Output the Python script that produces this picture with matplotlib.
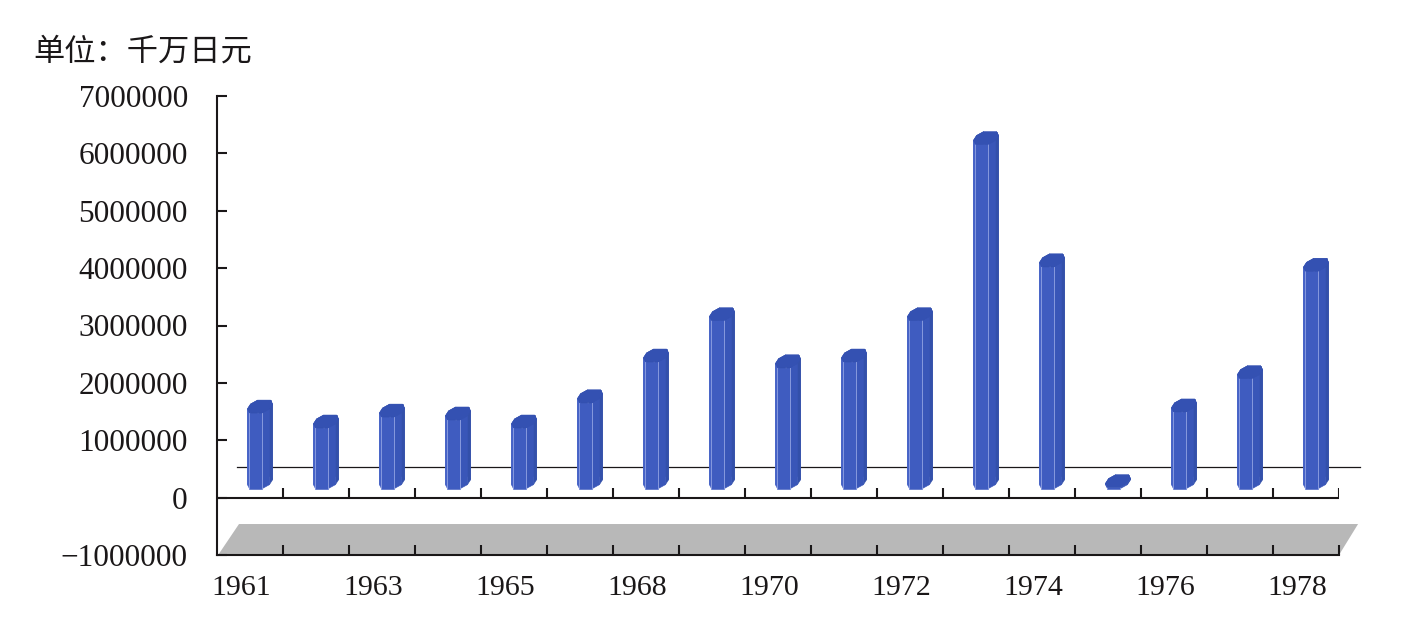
import matplotlib.pyplot as plt
import matplotlib.transforms as mtransforms
from matplotlib.patches import Polygon
import numpy as np

# 数据（单位：千万日元）
years = ['1961', '1962', '1963', '1964', '1965', '1966', '1968', '1969', '1970',
         '1971', '1972', '1973', '1974', '1975', '1976', '1977', '1978']
values = [1320000, 1060000, 1250000, 1200000, 1060000, 1500000, 2210000, 2930000, 2110000,
          2210000, 2930000, 6000000, 3870000, 20000, 1340000, 1920000, 3790000]
yticks = [-1000000, 0, 1000000, 2000000, 3000000, 4000000, 5000000, 6000000, 7000000]
ytick_labels = ['\u22121000000', '0', '1000000', '2000000', '3000000',
                '4000000', '5000000', '6000000', '7000000']
back_line = 540000

plt.rcParams['font.family'] = ['Liberation Serif', 'DejaVu Sans']

fig = plt.figure(figsize=(14.23, 6.27), dpi=100)
ax = fig.add_axes([217 / 1423, 72 / 627, 1122 / 1423, 459 / 627])
n = len(years)
ax.set_xlim(-0.5, n - 0.5)
ax.set_ylim(-1000000, 7000000)

ink = '#1a1718'
for s in ['top', 'right']:
    ax.spines[s].set_visible(False)
for s in ['left', 'bottom']:
    ax.spines[s].set_linewidth(1.5)
    ax.spines[s].set_color(ink)

# eje y
ax.set_yticks(yticks)
ax.set_yticklabels(ytick_labels)
ax.tick_params(axis='y', direction='in', length=7, width=1.5, color=ink, pad=21, labelsize=22.5, labelcolor=ink)

# ticks del eje inferior (entre categorias)
ax.set_xticks(np.arange(n) + 0.5)
ax.tick_params(axis='x', direction='in', length=7, width=1.5, color=ink, labelbottom=False)

# etiquetas de años (cada dos)
lab_off = mtransforms.ScaledTranslation(-9 / 100, -20 / 100, fig.dpi_scale_trans)
for i in range(0, n, 2):
    ax.text(i, -1000000, years[i], transform=ax.transData + lab_off,
            ha='center', va='top', fontsize=21.5, color=ink)

# piso gris
floor = Polygon([(0.001, 0.0), (1.0, 0.0), (1.017, 0.0675), (0.0196, 0.0675)],
                closed=True, transform=ax.transAxes, facecolor='#b8b8b8',
                edgecolor='none', clip_on=False, zorder=1)
ax.add_patch(floor)

# eje en cero con ticks hacia arriba
ax.axhline(0, color=ink, lw=1.5, zorder=2)
ax.vlines(np.arange(n) + 0.5, 0, 175000, color=ink, lw=1.5, zorder=2)

# linea fina del fondo
ax.axhline(back_line, xmin=0.018, xmax=1.019, color=ink, lw=0.9, clip_on=False, zorder=2)

# barras octogonales pseudo 3D
a, b, c = 11.0, 7.5, 4.6
kx, ky = 0.55, 0.85
oct_uw = [(-a + c, -b), (a - c, -b), (a, -b + c), (a, b - c),
          (a - c, b), (-a + c, b), (-a, b - c), (-a, -b + c)]
proj = np.array([(u + w * kx, w * ky) for u, w in oct_uw])
face_cols = ['#3f5cc0', '#3956b8', '#3350aa', '#3350aa',
             '#3350aa', '#3350aa', '#3d5abd', '#4663c7']
cap_col = '#3451b2'
line_col = '#8799de'
shift = np.array([10.0, 15.4])

for i, v in enumerate(values):
    base = ax.transData.transform((i, 0)) + shift
    top = ax.transData.transform((i, v)) + shift
    faces = []
    for j in range(8):
        k = (j + 1) % 8
        depth = (oct_uw[j][1] + oct_uw[k][1]) / 2
        faces.append((depth, j, k))
    faces.sort(key=lambda f: -f[0])
    for depth, j, k in faces:
        pts = [base + proj[j], base + proj[k], top + proj[k], top + proj[j]]
        p = Polygon(pts, closed=True, transform=mtransforms.IdentityTransform(),
                    facecolor=face_cols[j], edgecolor=face_cols[j], lw=0.4,
                    clip_on=False, zorder=3)
        ax.add_patch(p)
    for j in [0, 1]:
        p0 = base + proj[j]
        p1 = top + proj[j]
        ax.add_line(plt.Line2D([p0[0], p1[0]], [p0[1], p1[1]], color=line_col, lw=0.7,
                               transform=mtransforms.IdentityTransform(), zorder=3.5))
    cap = Polygon(top + proj, closed=True, transform=mtransforms.IdentityTransform(),
                  facecolor=cap_col, edgecolor=cap_col, lw=0.4, clip_on=False, zorder=4)
    ax.add_patch(cap)

fig.text(33 / 1423, 1 - 52 / 627, '单位：千万日元', ha='left', va='center', fontsize=22.5,
         color=ink, family=['Noto Sans CJK SC', 'DejaVu Sans'])

fig.savefig('out.png', dpi=100)
